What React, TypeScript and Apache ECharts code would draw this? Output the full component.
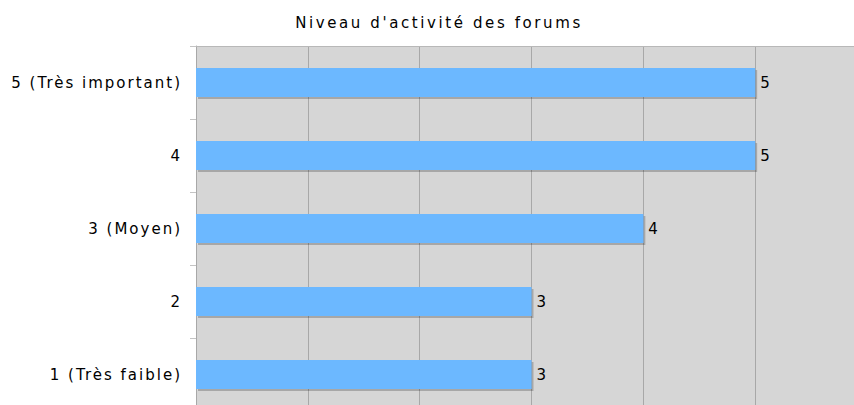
import React, { useEffect, useRef } from "react";
import * as echarts from "echarts";

const titleText = "Niveau d'activité des forums";
const categories = ["1 (Très faible)", "2", "3 (Moyen)", "4", "5 (Très important)"];
const values = [3, 3, 4, 5, 5];
const xMax = 6;

export default function App() {
  const ref = useRef<HTMLDivElement>(null);
  useEffect(() => {
    if (!ref.current) return;
    const chart = echarts.init(ref.current, null, { renderer: "svg" });
    const font = "'DejaVu Sans', Verdana, sans-serif";
    chart.setOption({
      animation: false,
      backgroundColor: "#ffffff",
      title: {
        text: titleText,
        left: 434,
        top: 10,
        textAlign: "center",
        textStyle: { fontFamily: font, fontSize: 15, fontWeight: "normal", color: "#010101" },
      },
      grid: { left: 196, top: 46, width: 671, height: 365, backgroundColor: "#d6d6d6", show: true, borderWidth: 0 },
      xAxis: {
        type: "value",
        min: 0,
        max: xMax,
        interval: 1,
        axisLine: { show: false },
        axisTick: { show: false },
        axisLabel: { show: false },
        splitLine: { show: true, lineStyle: { color: "#a8a8a8", width: 1 } },
      },
      yAxis: {
        type: "category",
        data: categories,
        axisLine: { show: true, lineStyle: { color: "#a8a8a8" } },
        axisTick: { show: true, length: 6, lineStyle: { color: "#c4c4c4" } },
        axisLabel: { fontFamily: font, fontSize: 15, color: "#000000", margin: 14 },
        splitLine: { show: false },
      },
      graphic: [
        { type: "line", shape: { x1: 196, y1: 46.5, x2: 880, y2: 46.5 }, style: { stroke: "#b8b8b8", lineWidth: 1 }, z: 10 },
      ],
      series: [
        {
          type: "bar",
          data: values,
          barWidth: "40%",
          itemStyle: {
            color: "#6cb8ff",
            shadowColor: "rgba(0,0,0,0.22)",
            shadowOffsetX: 2,
            shadowOffsetY: 2,
            shadowBlur: 0,
          },
          label: {
            show: true,
            position: "right",
            distance: 5,
            fontFamily: font,
            fontSize: 15,
            color: "#000000",
          },
        },
      ],
    });
    return () => chart.dispose();
  }, []);
  return (
    <div style={{ position: "fixed", left: 0, top: 0, width: 854, height: 405, overflow: "hidden", background: "#fff" }}>
      <style>{`.ec text { letter-spacing: 2px; } .ec text[fill="#010101"] { letter-spacing: 2.6px; }`}</style>
      <div className="ec" ref={ref} style={{ width: 880, height: 420 }} />
    </div>
  );
}
